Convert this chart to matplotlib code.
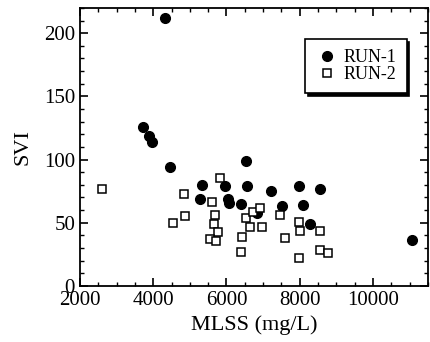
import matplotlib.pyplot as plt
from matplotlib.ticker import MultipleLocator

plt.rcParams['font.family'] = ['Liberation Serif', 'DejaVu Serif']

# RUN-1 (filled circles)
run1_mlss = [4318, 3718, 3882, 3964, 4454, 5319, 5290, 5954, 6045, 6070, 6410,
             6563, 6527, 7220, 7981, 8545, 7527, 8090, 8290, 6827, 11054]
run1_svi = [212, 126, 119, 114, 94, 80, 69, 79, 68.5, 65.6, 65,
            79, 99, 75, 79, 77, 63, 64, 49, 58, 36]

# RUN-2 (open squares)
run2_mlss = [2608, 4545, 4836, 4864, 5837, 5618, 5680, 5654, 5773, 5545, 5709,
             6527, 6727, 6909, 6636, 6982, 6436, 6410, 7472, 7981, 8000, 8545,
             7590, 8563, 8773, 7981]
run2_svi = [77, 50, 73, 55, 85, 66, 56, 49, 43, 37, 35.5,
            54, 58.6, 62, 46.6, 46.6, 39, 27, 56, 50.6, 43.4, 43.4,
            37.8, 28.6, 25.8, 22]

fig = plt.figure(figsize=(4.3, 3.42), dpi=100)
ax = fig.add_axes([0.186, 0.164, 0.809, 0.813])

ax.plot(run1_mlss, run1_svi, 'o', color='black', markersize=7, label='RUN-1')
ax.plot(run2_mlss, run2_svi, 's', markerfacecolor='white', markeredgecolor='black',
        markeredgewidth=1.1, markersize=6.2, label='RUN-2')

ax.set_xlim(2000, 11500)
ax.set_ylim(0, 220)
ax.xaxis.set_major_locator(MultipleLocator(2000))
ax.xaxis.set_minor_locator(MultipleLocator(500))
ax.yaxis.set_major_locator(MultipleLocator(50))
ax.yaxis.set_minor_locator(MultipleLocator(10))
ax.tick_params(which='both', direction='in', top=True, right=True, labelsize=15)
ax.tick_params(which='major', length=6, width=1.2)
ax.tick_params(which='minor', length=3, width=1)
for s in ax.spines.values():
    s.set_linewidth(1.3)

ax.set_xlabel('MLSS (mg/L)', fontsize=16)
ax.set_ylabel('SVI', fontsize=16, labelpad=8)

leg = ax.legend(loc='upper left', bbox_to_anchor=(0.647, 0.888), fontsize=13,
                frameon=True, fancybox=False, edgecolor='black',
                shadow={'color': 'black', 'alpha': 1}, handletextpad=0.3,
                borderpad=0.55, labelspacing=0.0, handlelength=1.3,
                borderaxespad=0)
leg.get_frame().set_linewidth(1.2)

plt.savefig('out.png', dpi=100)
